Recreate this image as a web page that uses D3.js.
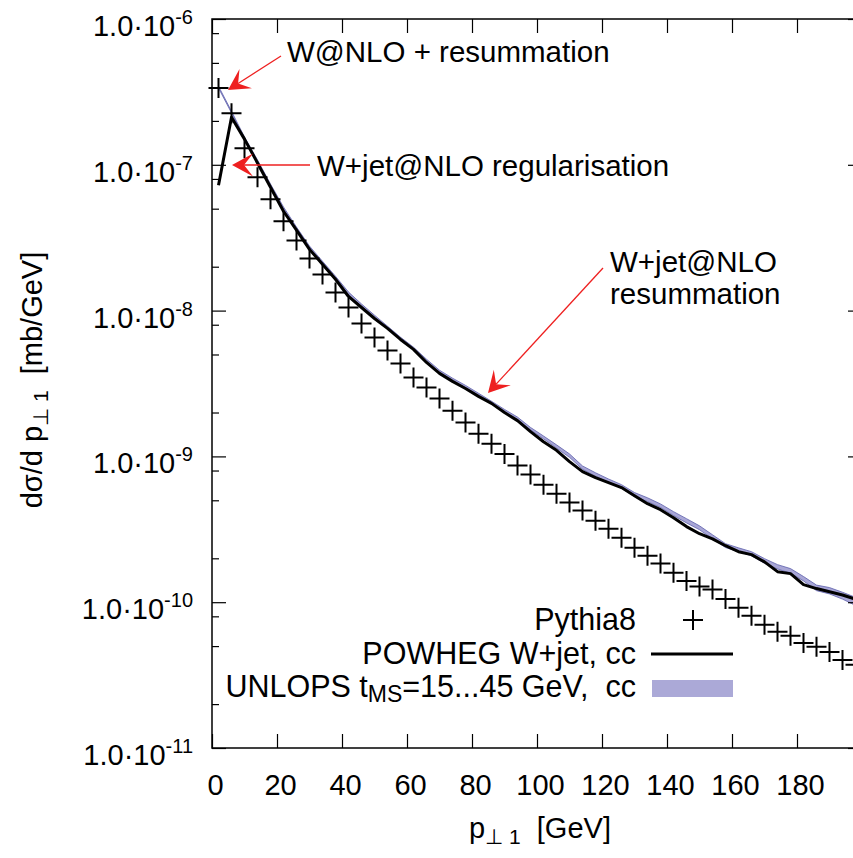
<!DOCTYPE html>
<html>
<head>
<meta charset="utf-8">
<script src="https://cdn.jsdelivr.net/npm/d3@7"></script>
<style>
html,body{margin:0;padding:0;background:#fff;}
svg{display:block;}
text{font-family:"Liberation Sans",Arial,Helvetica,sans-serif;fill:#000;white-space:pre;}
</style>
</head>
<body>
<svg id="chart" width="853" height="858"></svg>
<script>
// ---- data ----
const ptBins = [2,6,10,14,18,22,26,30,34,38,42,46,50,54,58,62,66,70,74,78,82,86,90,94,98,
  102,106,110,114,118,122,126,130,134,138,142,146,150,154,158,162,166,170,174,178,182,186,190,194,198];
const pythia8 = [3.36e-7,2.26e-7,1.30e-7,8.22e-8,5.80e-8,4.10e-8,3.03e-8,2.28e-8,1.77e-8,1.33e-8,
  1.05e-8,8.17e-9,6.55e-9,5.33e-9,4.34e-9,3.48e-9,2.97e-9,2.50e-9,2.06e-9,1.71e-9,
  1.43e-9,1.22e-9,1.04e-9,8.65e-10,7.50e-10,6.40e-10,5.55e-10,4.82e-10,4.25e-10,3.62e-10,
  3.19e-10,2.77e-10,2.36e-10,2.08e-10,1.84e-10,1.59e-10,1.40e-10,1.28e-10,1.22e-10,1.05e-10,
  9.16e-11,8.07e-11,7.00e-11,6.27e-11,5.88e-11,5.26e-11,4.94e-11,4.56e-11,4.02e-11,3.72e-11];
const powheg = [7.24e-8,2.12e-7,1.50e-7,1.03e-7,7.02e-8,4.80e-8,3.56e-8,2.63e-8,2.08e-8,1.64e-8,
  1.25e-8,1.05e-8,8.83e-9,7.55e-9,6.34e-9,5.42e-9,4.41e-9,3.71e-9,3.27e-9,2.92e-9,
  2.58e-9,2.31e-9,2.00e-9,1.76e-9,1.48e-9,1.26e-9,1.10e-9,9.21e-10,7.87e-10,7.15e-10,
  6.61e-10,6.11e-10,5.38e-10,4.74e-10,4.31e-10,3.80e-10,3.30e-10,2.95e-10,2.72e-10,2.44e-10,
  2.22e-10,2.12e-10,1.89e-10,1.62e-10,1.57e-10,1.32e-10,1.24e-10,1.18e-10,1.12e-10,1.05e-10];
const unlopsHigh = [3.46e-7,2.33e-7,1.55e-7,1.08e-7,7.38e-8,5.14e-8,3.74e-8,2.77e-8,2.18e-8,1.72e-8,
  1.34e-8,1.11e-8,9.30e-9,7.82e-9,6.57e-9,5.61e-9,4.64e-9,3.90e-9,3.44e-9,3.07e-9,
  2.71e-9,2.39e-9,2.10e-9,1.86e-9,1.58e-9,1.38e-9,1.20e-9,1.04e-9,8.60e-10,7.72e-10,
  7.00e-10,6.40e-10,5.65e-10,5.20e-10,4.72e-10,4.18e-10,3.74e-10,3.34e-10,2.90e-10,2.52e-10,
  2.36e-10,2.22e-10,1.99e-10,1.81e-10,1.70e-10,1.50e-10,1.31e-10,1.26e-10,1.17e-10,1.08e-10];
const unlopsLow = [3.36e-7,2.27e-7,1.49e-7,1.04e-7,7.10e-8,4.94e-8,3.60e-8,2.67e-8,2.10e-8,1.66e-8,
  1.28e-8,1.07e-8,8.94e-9,7.52e-9,6.31e-9,5.39e-9,4.46e-9,3.74e-9,3.30e-9,2.95e-9,
  2.61e-9,2.29e-9,2.02e-9,1.78e-9,1.52e-9,1.32e-9,1.14e-9,9.85e-10,8.16e-10,7.30e-10,
  6.64e-10,6.04e-10,5.30e-10,4.90e-10,4.46e-10,3.93e-10,3.50e-10,3.14e-10,2.72e-10,2.37e-10,
  2.22e-10,2.08e-10,1.85e-10,1.69e-10,1.58e-10,1.40e-10,1.20e-10,1.14e-10,1.05e-10,9.50e-11];
const xTicks = [0,20,40,60,80,100,120,140,160,180,200];
const xTickLabels = ["0","20","40","60","80","100","120","140","160","180",""];
const yMajorTicks = [1e-11,1e-10,1e-9,1e-8,1e-7,1e-6];
const yTickMantissa = ["1.0·10","1.0·10","1.0·10","1.0·10","1.0·10","1.0·10"];
const yTickExponent = ["-11","-10","-9","-8","-7","-6"];
const yMinorTicks = [];
[-11,-10,-9,-8,-7].forEach(e => [2,5,8].forEach(m => yMinorTicks.push(m*Math.pow(10,e))));
const legendLabels = ["Pythia8","POWHEG W+jet, cc","UNLOPS t","MS","=15...45 GeV,  cc"];
const annotations = [
  {text:["W@NLO + resummation"], tx:287, ty:62, from:[281,56], to:[228,90]},
  {text:["W+jet@NLO regularisation"], tx:317, ty:176, from:[310,165], to:[232,165]},
  {text:["W+jet@NLO","resummation"], tx:610, ty:272, from:[603,268], to:[488,393]}
];

// ---- layout ----
const svg = d3.select("#chart");
const L = 212, R = 862, T = 19, B = 748;
const x = d3.scaleLinear().domain([0,200]).range([L,R]);
const y = d3.scaleLog().domain([1e-11,1e-6]).range([B,T]);
const FS = 29, LFS = 30.5;

// band
svg.append("path")
  .datum(ptBins.map((p,i)=>({p, lo:unlopsLow[i], hi:unlopsHigh[i]})))
  .attr("d", d3.area().x(d=>x(d.p)).y0(d=>y(d.lo)).y1(d=>y(d.hi)))
  .attr("fill","#a8a6d6").attr("stroke","#5f62ad").attr("stroke-width",1).attr("stroke-opacity",0.8);

// powheg line
svg.append("path")
  .datum(ptBins.map((p,i)=>[p,powheg[i]]))
  .attr("d", d3.line().x(d=>x(d[0])).y(d=>y(d[1])))
  .attr("fill","none").attr("stroke","#000").attr("stroke-width",3).attr("stroke-linejoin","round");

// pythia crosses
const cs = 10;
const crossG = svg.append("g").attr("stroke","#000").attr("stroke-width",2);
ptBins.forEach((p,i)=>{
  const cx = x(p), cy = y(pythia8[i]);
  crossG.append("path").attr("d",`M${cx-cs},${cy}H${cx+cs}M${cx},${cy-cs}V${cy+cs}`);
});

// axes: ticks inward on all sides
function styleAxis(g){ g.select(".domain").remove(); g.selectAll("line").attr("stroke","#000").attr("stroke-width",1.2); }
svg.append("g").attr("transform",`translate(0,${B})`)
  .call(d3.axisBottom(x).tickValues(xTicks).tickSize(-14).tickSizeOuter(0).tickPadding(26).tickFormat((d,i)=>xTickLabels[i]))
  .call(styleAxis)
  .call(g=>g.selectAll("text").attr("font-size",FS).attr("font-family",null).attr("dx",3));
svg.append("g").attr("transform",`translate(0,${T})`)
  .call(d3.axisTop(x).tickValues(xTicks).tickSize(-14).tickSizeOuter(0).tickFormat(""))
  .call(styleAxis);
svg.append("g").attr("transform",`translate(${L},0)`)
  .call(d3.axisLeft(y).tickValues(yMajorTicks).tickSize(-14).tickSizeOuter(0).tickFormat(""))
  .call(styleAxis);
svg.append("g").attr("transform",`translate(${L},0)`)
  .call(d3.axisLeft(y).tickValues(yMinorTicks).tickSize(-7).tickSizeOuter(0).tickFormat(""))
  .call(styleAxis);
svg.append("g").attr("transform",`translate(${R},0)`)
  .call(d3.axisRight(y).tickValues(yMajorTicks).tickSize(-14).tickSizeOuter(0).tickFormat(""))
  .call(styleAxis);
svg.append("g").attr("transform",`translate(${R},0)`)
  .call(d3.axisRight(y).tickValues(yMinorTicks).tickSize(-7).tickSizeOuter(0).tickFormat(""))
  .call(styleAxis);

// frame
svg.append("rect").attr("x",L).attr("y",T).attr("width",R-L).attr("height",B-T)
  .attr("fill","none").attr("stroke","#000").attr("stroke-width",1.5);

// y tick labels
yMajorTicks.forEach((v,i)=>{
  const t = svg.append("text").attr("x",193).attr("y",y(v)+17).attr("text-anchor","end").attr("font-size",FS);
  t.append("tspan").text(yTickMantissa[i]);
  t.append("tspan").attr("font-size",20).attr("dy",-12).text(yTickExponent[i]);
});

// axis titles
const xt = svg.append("text").attr("x",540).attr("y",838).attr("text-anchor","middle").attr("font-size",FS);
xt.append("tspan").text("p");
xt.append("tspan").attr("font-size",21).attr("dy",6).text("⊥ 1");
xt.append("tspan").attr("dy",-6).text("  [GeV]");
const yt = svg.append("text").attr("transform","translate(42,380) rotate(-90)").attr("text-anchor","middle").attr("font-size",FS);
yt.append("tspan").text("dσ/d p");
yt.append("tspan").attr("font-size",21).attr("dy",6).text("⊥ 1");
yt.append("tspan").attr("dy",-6).text("  [mb/GeV]");

// legend
const lx = 636;
svg.append("text").attr("x",lx).attr("y",630).attr("text-anchor","end").attr("font-size",LFS).text(legendLabels[0]);
svg.append("path").attr("d",`M${693-cs},620H${693+cs}M693,${620-cs}V${620+cs}`).attr("stroke","#000").attr("stroke-width",2);
svg.append("text").attr("x",lx).attr("y",664).attr("text-anchor","end").attr("font-size",LFS).text(legendLabels[1]);
svg.append("line").attr("x1",651).attr("x2",733).attr("y1",654).attr("y2",654).attr("stroke","#000").attr("stroke-width",3);
const ul = svg.append("text").attr("x",lx).attr("y",697).attr("text-anchor","end").attr("font-size",LFS);
ul.append("tspan").text(legendLabels[2]);
ul.append("tspan").attr("font-size",23).attr("dy",5).text(legendLabels[3]);
ul.append("tspan").attr("dy",-5).text(legendLabels[4]);
svg.append("rect").attr("x",652).attr("y",680).attr("width",81).attr("height",17).attr("fill","#aba9d7");

// annotations with arrows
const red = "#ee2020";
annotations.forEach(a=>{
  const [x0,y0] = a.from, [x1,y1] = a.to;
  const ang = Math.atan2(y1-y0, x1-x0);
  const hl = 24, ha = 0.5, notch = 12;
  const bx = x1 - notch*Math.cos(ang), by = y1 - notch*Math.sin(ang);
  svg.append("line").attr("x1",x0).attr("y1",y0).attr("x2",bx).attr("y2",by).attr("stroke",red).attr("stroke-width",1.3);
  const p1 = [x1 - hl*Math.cos(ang-ha), y1 - hl*Math.sin(ang-ha)];
  const p2 = [x1 - hl*Math.cos(ang+ha), y1 - hl*Math.sin(ang+ha)];
  svg.append("path").attr("d",`M${x1},${y1}L${p1[0]},${p1[1]}L${bx},${by}L${p2[0]},${p2[1]}Z`).attr("fill",red);
  a.text.forEach((s,k)=>{
    svg.append("text").attr("x",a.tx).attr("y",a.ty+k*32).attr("font-size",29.5).text(s);
  });
});
</script>
</body>
</html>
